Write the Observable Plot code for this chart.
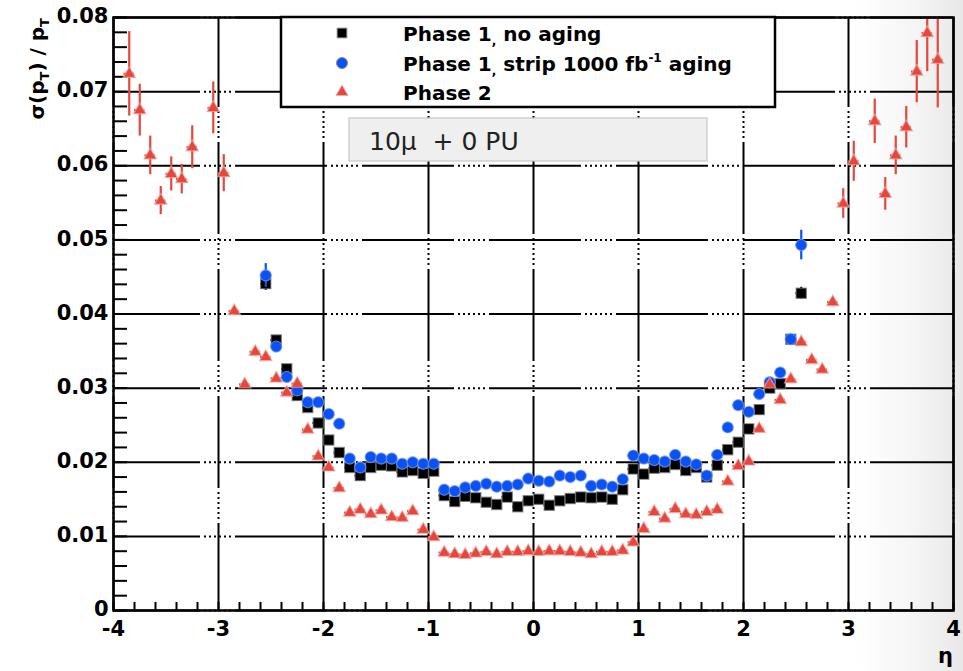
<!DOCTYPE html>
<html><head><meta charset="utf-8">
<script src="https://cdn.jsdelivr.net/npm/d3@7"></script>
<script src="https://cdn.jsdelivr.net/npm/@observablehq/plot@0.6"></script>
<style>
html,body{margin:0;padding:0;background:#fff;}
body{width:963px;height:671px;overflow:hidden;}
#chart{position:relative;width:963px;height:671px;background:linear-gradient(90deg,#ffffff 0%,#ffffff 89%,#f5f5f5 95%,#e8e8e8 100%);}
</style></head><body><div id="chart"></div>
<script>
// eta bin centres, Phase 1 samples
const etaPhase1 = [-2.55,-2.45,-2.35,-2.25,-2.15,-2.05,-1.95,-1.85,-1.75,-1.65,-1.55,-1.45,-1.35,-1.25,-1.15,-1.05,-0.95,-0.85,-0.75,-0.65,-0.55,-0.45,-0.35,-0.25,-0.15,-0.05,
  0.05,0.15,0.25,0.35,0.45,0.55,0.65,0.75,0.85,0.95,1.05,1.15,1.25,1.35,1.45,1.55,1.65,1.75,1.85,1.95,2.05,2.15,2.25,2.35,2.45,2.55];
// Phase 1, no aging
const noAging = [0.0441,0.0365,0.0326,0.0290,0.0274,0.0253,0.0230,0.0213,0.0193,0.0182,0.0193,0.0196,0.0195,0.0187,0.0189,0.0185,0.0188,0.0155,0.0147,0.0154,0.0152,0.0146,0.0143,0.0153,0.0140,0.0148,
  0.0150,0.0142,0.0148,0.0151,0.0153,0.0152,0.0153,0.0150,0.0163,0.0191,0.0184,0.0192,0.0193,0.0197,0.0189,0.0193,0.0180,0.0196,0.0217,0.0227,0.0245,0.0271,0.0300,0.0306,0.0366,0.0428];
const noAgingErr = [0.0009,0.0005,0.0004,0.0003,0.0003,0.0003,0.0003,0.0003,0.0003,0.0003,0.0003,0.0003,0.0003,0.0003,0.0003,0.0003,0.0003,0.0003,0.0003,0.0003,0.0003,0.0003,0.0003,0.0003,0.0003,0.0003,
  0.0003,0.0003,0.0003,0.0003,0.0003,0.0003,0.0003,0.0003,0.0003,0.0003,0.0003,0.0003,0.0003,0.0003,0.0003,0.0003,0.0003,0.0003,0.0003,0.0003,0.0003,0.0003,0.0003,0.0004,0.0005,0.0008];
// Phase 1, strip 1000 fb-1 aging
const stripAging = [0.0452,0.0356,0.0315,0.0297,0.0281,0.0281,0.0265,0.0252,0.0205,0.0193,0.0207,0.0205,0.0205,0.0198,0.0200,0.0198,0.0198,0.0163,0.0161,0.0166,0.0168,0.0171,0.0167,0.0168,0.0170,0.0178,
  0.0175,0.0174,0.0182,0.0180,0.0182,0.0168,0.0170,0.0167,0.0177,0.0209,0.0205,0.0203,0.0201,0.0210,0.0201,0.0197,0.0182,0.0210,0.0247,0.0277,0.0268,0.0292,0.0308,0.0321,0.0366,0.0493];
const stripAgingErr = [0.0016,0.0006,0.0004,0.0003,0.0003,0.0003,0.0003,0.0003,0.0003,0.0003,0.0003,0.0003,0.0003,0.0003,0.0003,0.0003,0.0003,0.0003,0.0003,0.0003,0.0003,0.0003,0.0003,0.0003,0.0003,0.0003,
  0.0003,0.0003,0.0003,0.0003,0.0003,0.0003,0.0003,0.0003,0.0003,0.0003,0.0003,0.0003,0.0003,0.0003,0.0003,0.0003,0.0003,0.0003,0.0003,0.0003,0.0003,0.0003,0.0003,0.0004,0.0006,0.0020];
// eta bin centres, Phase 2 sample
const etaPhase2 = [-3.85,-3.75,-3.65,-3.55,-3.45,-3.35,-3.25,-3.05,-2.95,-2.85,-2.75,-2.65,-2.55,-2.45,-2.35,-2.25,-2.15,-2.05,-1.95,-1.85,-1.75,-1.65,-1.55,-1.45,-1.35,-1.25,-1.15,-1.05,-0.95,-0.85,-0.75,-0.65,-0.55,-0.45,-0.35,-0.25,-0.15,-0.05,
  0.05,0.15,0.25,0.35,0.45,0.55,0.65,0.75,0.85,0.95,1.05,1.15,1.25,1.35,1.45,1.55,1.65,1.75,1.85,1.95,2.05,2.15,2.25,2.35,2.45,2.55,2.65,2.75,2.85,2.95,3.05,3.25,3.35,3.45,3.55,3.65,3.75,3.85];
const phase2 = [0.0724,0.0675,0.0614,0.0553,0.0589,0.0582,0.0625,0.0678,0.0590,0.0404,0.0305,0.0349,0.0342,0.0313,0.0294,0.0306,0.0244,0.0208,0.0193,0.0165,0.0132,0.0136,0.0130,0.0135,0.0126,0.0125,0.0134,0.0109,0.0099,0.0078,0.0076,0.0075,0.0077,0.0079,0.0076,0.0079,0.0079,0.0080,
  0.0079,0.0080,0.0080,0.0079,0.0078,0.0076,0.0079,0.0079,0.0081,0.0092,0.0110,0.0133,0.0124,0.0137,0.0130,0.0129,0.0133,0.0136,0.0174,0.0195,0.0201,0.0245,0.0305,0.0284,0.0312,0.0362,0.0338,0.0325,0.0416,0.0549,0.0606,0.0660,0.0562,0.0614,0.0652,0.0727,0.0779,0.0743];
const phase2Err = [0.0057,0.0035,0.0026,0.0019,0.0023,0.0020,0.0029,0.0035,0.0025,0.0006,0.0004,0.0005,0.0004,0.0004,0.0003,0.0003,0.0003,0.0003,0.0003,0.0003,0.0003,0.0003,0.0003,0.0003,0.0003,0.0003,0.0003,0.0003,0.0003,0.0003,0.0003,0.0003,0.0003,0.0003,0.0003,0.0003,0.0003,0.0003,
  0.0003,0.0003,0.0003,0.0003,0.0003,0.0003,0.0003,0.0003,0.0003,0.0003,0.0003,0.0003,0.0003,0.0003,0.0003,0.0003,0.0003,0.0003,0.0003,0.0003,0.0003,0.0003,0.0003,0.0003,0.0004,0.0004,0.0004,0.0004,0.0006,0.0020,0.0027,0.0030,0.0022,0.0026,0.0028,0.0042,0.0052,0.0065];

const xTicks = [-4,-3,-2,-1,0,1,2,3,4];
const yTicks = [0,0.01,0.02,0.03,0.04,0.05,0.06,0.07,0.08];
const seriesNames = ["Phase 1, no aging","Phase 1, strip 1000 fb-1 aging","Phase 2"];
const colors = ["#000000","#0b52f5","#e6463b"];

const rows = (eta, v, e) => eta.map((x, i) => ({eta: x, v: v[i], err: e[i]}));
const dBlack = rows(etaPhase1, noAging, noAgingErr);
const dBlue = rows(etaPhase1, stripAging, stripAgingErr);
const dRed = rows(etaPhase2, phase2, phase2Err);

const gridDash = "92,4,2,3,2,3,2,3,2,3,2,3,2,4";
const xMinor = d3.range(-4, 4.001, 0.2);
const yMinor = d3.range(0, 0.0801, 0.002);

function series(data, color, symbol, r, outline) {
  return [
    Plot.ruleX(data, {x: "eta", y1: d => d.v - d.err, y2: d => d.v + d.err, stroke: color, strokeWidth: 2.2, clip: true}),
    Plot.ruleY(data, {y: "v", x1: d => d.eta - 0.05, x2: d => d.eta + 0.05, stroke: color, strokeWidth: 2.2}),
    Plot.dot(data, {x: "eta", y: "v", symbol, r, fill: color, stroke: outline, strokeWidth: 1.2, strokeOpacity: 0.7})
  ];
}

const plot = Plot.plot({
  width: 963, height: 671,
  marginLeft: 113, marginRight: 10, marginTop: 17, marginBottom: 61,
  x: {domain: [-4, 4], label: null},
  y: {domain: [0, 0.08], label: null},
  style: {background: "transparent", fontFamily: "'DejaVu Sans', sans-serif", fontSize: "21px", fontWeight: "bold", color: "black", overflow: "visible"},
  marks: [
    Plot.ruleY(yTicks, {stroke: "black", strokeWidth: 2, strokeDasharray: gridDash, strokeDashoffset: 5}),
    Plot.ruleX(xTicks, {y1: 0, y2: 0.08, stroke: "black", strokeWidth: 2, strokeDasharray: gridDash, strokeDashoffset: 5}),
    Plot.ruleY(yMinor, {stroke: "black", strokeWidth: 2, insetRight: 826}),
    Plot.ruleX(xMinor, {stroke: "black", strokeWidth: 2, insetTop: 585}),
    Plot.axisY(yTicks, {tickSize: 0, tickPadding: 5, tickFormat: d => String(d), fontWeight: "bold", dy: -1}),
    Plot.axisX(xTicks, {tickSize: 0, tickPadding: 11, tickFormat: d => String(d), fontWeight: "bold"}),
    ...series(dBlack, colors[0], "square", 5.8, "#777"),
    ...series(dBlue, colors[1], "circle", 5.6, "#7a9cf0"),
    ...series(dRed, colors[2], "triangle", 4.6, "#f0a9a2"),
    Plot.frame({stroke: "black", strokeWidth: 2.5})
  ]
});
document.getElementById("chart").appendChild(plot);

const svg = d3.select(plot);
const font = "'DejaVu Sans', sans-serif";

// Legend box
const lg = svg.append("g").attr("text-anchor", "start");
lg.append("rect").attr("x", 281).attr("y", 17).attr("width", 494).attr("height", 90)
  .attr("fill", "white").attr("stroke", "black").attr("stroke-width", 2.5);
const legSyms = [d3.symbolSquare, d3.symbolCircle, d3.symbolTriangle];
const legSize = [95, 95, 62];
const legY = [33, 63, 92];
seriesNames.forEach((name, i) => {
  lg.append("path").attr("d", d3.symbol(legSyms[i], legSize[i])())
    .attr("transform", `translate(342,${legY[i]})`)
    .attr("fill", colors[i]).attr("stroke", i === 2 ? "#f0a9a2" : "#888").attr("stroke-width", 1);
  const t = lg.append("text").attr("x", 403).attr("y", legY[i] + 8).attr("text-anchor", "start")
    .attr("font-family", font).attr("font-size", 20).attr("font-weight", "bold").attr("fill", "black")
    .style("white-space", "pre");
  if (i === 0) {
    t.append("tspan").text("Phase 1");
    t.append("tspan").attr("font-size", 12).attr("dy", 4).text(",");
    t.append("tspan").attr("dy", -4).text(" no aging");
  } else if (i === 1) {
    t.append("tspan").text("Phase 1");
    t.append("tspan").attr("font-size", 12).attr("dy", 4).text(",");
    t.append("tspan").attr("dy", -4).text(" strip 1000 fb");
    t.append("tspan").attr("font-size", 12).attr("dy", -9).text("-1");
    t.append("tspan").attr("dy", 9).text(" aging");
  } else {
    t.text("Phase 2");
  }
});

// Pile-up text box
svg.append("rect").attr("x", 349).attr("y", 118).attr("width", 358).attr("height", 43)
  .attr("fill", "#efefef").attr("stroke", "#c6c6c6").attr("stroke-width", 1.2);
svg.append("text").attr("x", 369).attr("y", 150).attr("text-anchor", "start").attr("font-family", font).attr("font-size", 25)
  .attr("font-weight", "normal").attr("fill", "#222").style("white-space", "pre").text("10\u03bc  + 0 PU");

// Y title
const yt = svg.append("text").attr("transform", "translate(44,18) rotate(-90)").attr("text-anchor", "end")
  .attr("font-family", font).attr("font-size", 20).attr("font-weight", "bold").attr("fill", "black");
yt.append("tspan").text("\u03c3(p");
yt.append("tspan").attr("font-size", 13).attr("dy", 5).text("T");
yt.append("tspan").attr("dy", -5).style("white-space", "pre").text(") / p");
yt.append("tspan").attr("font-size", 13).attr("dy", 5).text("T");

// X title
svg.append("text").attr("x", 953).attr("y", 663).attr("text-anchor", "end")
  .attr("font-family", font).attr("font-size", 21).attr("font-weight", "bold").attr("fill", "black").text("\u03b7");
</script></body></html>
